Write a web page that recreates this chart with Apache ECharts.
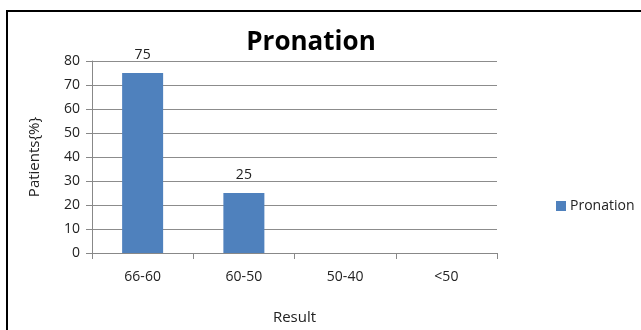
<!DOCTYPE html>
<html>
<head>
<meta charset="utf-8">
<script src="https://cdn.jsdelivr.net/npm/echarts@6/dist/echarts.min.js"></script>
<style>
  html, body { margin: 0; padding: 0; background: #fff; }
  #chart { width: 641px; height: 330px; }
</style>
</head>
<body>
<div id="chart"></div>
<script>
// Result ranges and share of patients in each
const categories = ['66-60', '60-50', '50-40', '<50'];
const pronation = [75, 25, null, null];
const yTicks = [0, 10, 20, 30, 40, 50, 60, 70, 80];

const FONT = '"Open Sans", "Noto Sans", sans-serif';
const chart = echarts.init(document.getElementById('chart'), null, { renderer: 'canvas' });

chart.setOption({
  backgroundColor: '#ffffff',
  animation: false,
  title: {
    text: 'Pronation',
    left: 306, top: 25, textAlign: 'center',
    textStyle: { fontFamily: FONT, fontSize: 26, fontWeight: 'bold', color: '#000' }
  },
  legend: {
    data: ['Pronation'],
    left: 551, top: 194,
    itemWidth: 10, itemHeight: 10, itemGap: 5,
    icon: 'rect',
    textStyle: { fontFamily: FONT, fontSize: 14, color: '#222', padding: [0, 0, 0, -1] }
  },
  grid: { left: 92, right: 144, top: 61, bottom: 76, containLabel: false },
  xAxis: {
    type: 'category',
    data: categories,
    name: 'Result',
    nameLocation: 'middle',
    nameGap: 57,
    nameTextStyle: { fontFamily: FONT, fontSize: 15, color: '#222' },
    axisLine: { lineStyle: { color: '#888', width: 1 } },
    axisTick: { show: true, length: 6, lineStyle: { color: '#888' } },
    axisLabel: { fontFamily: FONT, fontSize: 14, color: '#222', margin: 17 }
  },
  yAxis: {
    type: 'value',
    min: yTicks[0], max: yTicks[yTicks.length - 1], interval: 10,
    name: 'Patients{%}',
    nameLocation: 'middle',
    nameGap: 50,
    nameRotate: 90,
    nameTextStyle: { fontFamily: FONT, fontSize: 15, color: '#222' },
    axisLine: { show: true, lineStyle: { color: '#888', width: 1 } },
    axisTick: { show: true, length: 6, inside: false, lineStyle: { color: '#888' } },
    axisLabel: { fontFamily: FONT, fontSize: 14, color: '#222', margin: 12 },
    splitLine: { show: true, lineStyle: { color: '#8c8c8c', width: 1 } }
  },
  series: [{
    name: 'Pronation',
    type: 'bar',
    data: pronation,
    barWidth: 41,
    itemStyle: { color: '#4f81bd' },
    label: {
      show: true, position: 'top', distance: 11,
      fontFamily: FONT, fontSize: 14, color: '#222'
    }
  }],
  graphic: [{
    type: 'polyline',
    shape: { points: [[7, 331], [7, 11], [642, 11]] },
    style: { stroke: '#000', lineWidth: 2, fill: null },
    silent: true
  }]
});
</script>
</body>
</html>
